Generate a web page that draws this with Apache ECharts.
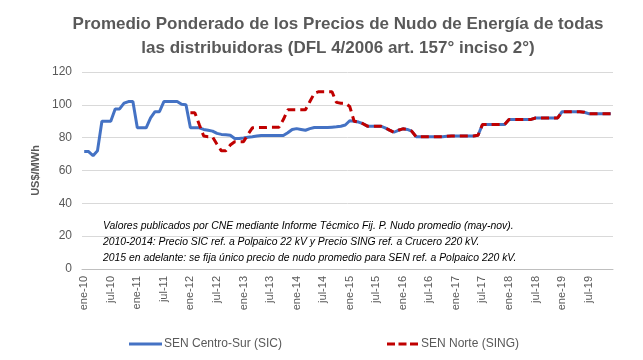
<!DOCTYPE html>
<html>
<head>
<meta charset="utf-8">
<script src="https://cdn.jsdelivr.net/npm/echarts@6/dist/echarts.min.js"></script>
<style>html,body{margin:0;padding:0;background:#fff}#c{width:643px;height:360px}</style>
</head>
<body>
<div id="c"></div>
<script>
const monthNames = ['ene','feb','mar','abr','may','jun','jul','ago','sep','oct','nov','dic'];
const years = [10,11,12,13,14,15,16,17,18,19];
const categories = [];
years.forEach(y => monthNames.forEach(m => categories.push(m + '-' + y)));

const sicValues = [
  71.5,71.5,69,72,90,90,90,97.5,97.5,101,102,102,
  86,86,86,92,95.8,95.8,102,102,102,102,100.3,100,
  86,86,86,85,84.5,84,82.6,82,81.8,81.5,79.5,79.5,
  79.8,80.2,80.5,81,81.3,81.3,81.3,81.3,81.3,81.3,83,85,
  85.5,85,84.5,85.5,86.2,86.2,86.2,86.2,86.4,86.6,87,87.7,
  90.3,90,89.5,88.5,87,87,87,87,86,84.6,83.3,84.5,
  85.4,85,84,80.6,80.6,80.6,80.6,80.6,80.6,80.6,80.8,81,
  81,81,81,81,81,81.5,88,88,88,88,88,88,
  91.1,91.1,91.1,91.1,91.1,91.1,92,92,92,92,92,92,
  95.8,95.8,95.8,95.8,95.8,95.5,94.6,94.6,94.6,94.6,94.6,94.6
];

const singValues = [
  null,null,null,null,null,null,null,null,null,null,null,null,
  null,null,null,null,null,null,null,null,null,null,null,null,
  95.2,95.2,88,81,80.5,80.5,76,72,72,75.5,77.5,77.5,
  77.5,82,86,86.2,86.2,86.2,86.4,86.4,86.4,91,97,97,
  97,97,97,102,107,108,108,108,108,101.5,101,101,
  99,90,89.5,88.5,87,87,87,87,86,84.6,83.3,84.5,
  85.4,85,84,80.6,80.6,80.6,80.6,80.6,80.6,80.6,80.8,81,
  81,81,81,81,81,81.5,88,88,88,88,88,88,
  91.1,91.1,91.1,91.1,91.1,91.1,92,92,92,92,92,92,
  95.8,95.8,95.8,95.8,95.8,95.5,94.6,94.6,94.6,94.6,94.6,94.6
];

const noteLines = [
  'Valores publicados por CNE mediante Informe Técmico Fij. P. Nudo promedio (may-nov).',
  '2010-2014: Precio SIC ref. a Polpaico 22 kV y Precio SING ref. a Crucero 220 kV.',
  '2015 en adelante: se fija único precio de nudo promedio para SEN ref. a Polpaico 220 kV.'
];

const chart = echarts.init(document.getElementById('c'), null, {renderer: 'canvas'});
const grey = '#595959';
chart.setOption({
  animation: false,
  textStyle: {fontFamily: 'Liberation Sans'},
  title: {
    text: 'Promedio Ponderado de los Precios de Nudo de Energía de todas\nlas distribuidoras (DFL 4/2006 art. 157° inciso 2°)',
    left: 333, top: 7, textAlign: 'center',
    textStyle: {fontFamily: 'Liberation Sans', fontSize: 17, fontWeight: 'bold', color: grey, lineHeight: 24}
  },
  legend: [
    {data: ['SEN Centro-Sur (SIC)'], left: 124, top: 333, itemWidth: 33, itemHeight: 3,
     icon: 'path://M0,0H33V3H0Z', itemGap: 4,
     textStyle: {color: grey, fontSize: 12, fontFamily: 'Liberation Sans', padding: [0, 0, 0, -3]}},
    {data: ['SEN Norte (SING)'], left: 382, top: 333, itemWidth: 31, itemHeight: 3,
     icon: 'path://M0,0H8V3H0Z M11.5,0H19.5V3H11.5Z M23,0H31V3H23Z',
     textStyle: {color: grey, fontSize: 12, fontFamily: 'Liberation Sans', padding: [0, 0, 0, -2]}}
  ],
  grid: {left: 82, right: 30, top: 72, bottom: 91},
  xAxis: {
    type: 'category', data: categories, boundaryGap: true,
    axisLine: {lineStyle: {color: '#bfbfbf'}},
    axisTick: {interval: 5, length: 5, lineStyle: {color: '#bfbfbf'}},
    axisLabel: {interval: 5, rotate: 90, color: grey, fontSize: 11, margin: 7}
  },
  yAxis: {
    type: 'value', min: 0, max: 120, interval: 20,
    name: 'US$/MWh', nameLocation: 'middle', nameRotate: 90, nameGap: 40,
    nameTextStyle: {color: grey, fontSize: 11, fontWeight: 'bold'},
    axisLine: {show: false}, axisTick: {show: false},
    axisLabel: {color: grey, fontSize: 12, margin: 10},
    splitLine: {lineStyle: {color: '#d9d9d9'}}
  },
  series: [
    {name: 'SEN Centro-Sur (SIC)', type: 'line', data: sicValues, symbol: 'none',
     lineStyle: {color: '#4472C4', width: 3}, itemStyle: {color: '#4472C4'}, z: 2},
    {name: 'SEN Norte (SING)', type: 'line', data: singValues, symbol: 'none',
     lineStyle: {color: '#C00000', width: 3, type: [8, 5]}, itemStyle: {color: '#C00000'}, z: 3}
  ],
  graphic: noteLines.map((t, i) => ({
    type: 'text', left: 103, top: 221 + i * 16, z: 10,
    style: {text: t, fill: '#000', font: 'italic 10.4px "Liberation Sans"'}
  }))
});
</script>
</body>
</html>
